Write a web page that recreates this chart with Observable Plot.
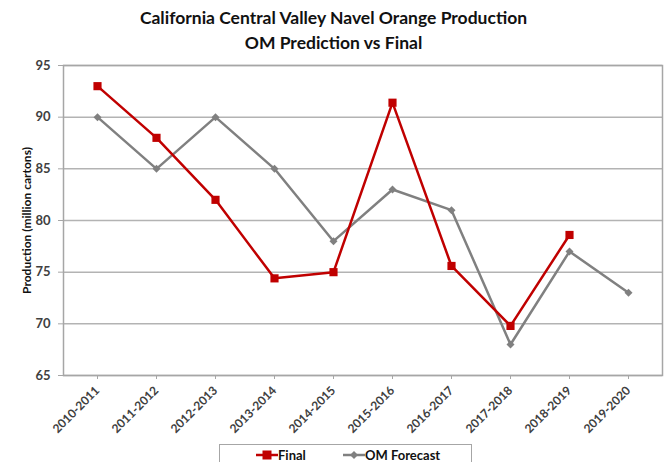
<!DOCTYPE html>
<html>
<head>
<meta charset="utf-8">
<script src="https://cdn.jsdelivr.net/npm/d3@7"></script>
<script src="https://cdn.jsdelivr.net/npm/@observablehq/plot@0.6"></script>
<style>
  body { margin: 0; background: #fff; font-family: Lato, "Open Sans", sans-serif; }
  #wrap { position: relative; width: 667px; height: 462px; overflow: hidden; }
  #title { position: absolute; left: 0; top: 5px; width: 667px; text-align: center; font-weight: bold; font-size: 17.5px; line-height: 25px; color: #111; }
  #chart { position: absolute; left: 0; top: 58px; }
  #legend { position: absolute; left: 219px; top: 444px; width: 253px; height: 24px; border: 1px solid #a6a6a6; box-sizing: border-box; font-weight: bold; font-size: 13px; color: #111; }
  .li { position: absolute; top: 2px; display: flex; align-items: center; height: 16px; }
</style>
</head>
<body>
<div id="wrap">
  <div id="title">California Central Valley Navel Orange Production<br>OM Prediction vs Final</div>
  <div id="chart"></div>
  <div id="legend">
    <div class="li" style="left:36px"><svg width="22" height="12"><line x1="0" y1="6" x2="22" y2="6" stroke="#c00000" stroke-width="2.5"/><rect x="6.5" y="1.5" width="9" height="9" fill="#c00000"/></svg><span>Final</span></div>
    <div class="li" style="left:123px"><svg width="22" height="12"><line x1="0" y1="6" x2="22" y2="6" stroke="#808080" stroke-width="2.5"/><path d="M11 2 L15 6 L11 10 L7 6 Z" fill="#808080"/></svg><span>OM Forecast</span></div>
  </div>
</div>
<script>
const seasons = ["2010-2011","2011-2012","2012-2013","2013-2014","2014-2015","2015-2016","2016-2017","2017-2018","2018-2019","2019-2020"];
const finalValues = [93, 88, 82, 74.4, 75, 91.4, 75.6, 69.8, 78.6, null];
const forecastValues = [90, 85, 90, 85, 78, 83, 81, 68, 77, 73];
const yTicks = [65, 70, 75, 80, 85, 90, 95];

const finalData = seasons.map((s, i) => ({season: s, value: finalValues[i]})).filter(d => d.value != null);
const forecastData = seasons.map((s, i) => ({season: s, value: forecastValues[i]}));

const chart = Plot.plot({
  width: 667,
  height: 385,
  marginTop: 7,
  marginBottom: 68,
  marginLeft: 63,
  marginRight: 5,
  style: {fontFamily: "Lato, 'Open Sans', sans-serif", fontSize: "11px", background: "#fff"},
  x: {type: "point", domain: seasons, padding: 0.5},
  y: {domain: [65, 95]},
  marks: [
    Plot.gridY(yTicks, {stroke: "#b3b3b3", strokeOpacity: 1, strokeWidth: 1.5}),
    Plot.frame({stroke: "#a6a6a6", strokeWidth: 1.5}),
    Plot.axisY(yTicks, {tickSize: 5, tickPadding: 8, stroke: "#a6a6a6", fontWeight: "bold", fill: "#404040", fontSize: 13,
      label: "Production (million cartons)", labelAnchor: "center", labelArrow: "none", labelOffset: 41}),
    Plot.axisX({tickSize: 4, tickPadding: 9, tickRotate: -45, stroke: "#a6a6a6", fontWeight: "bold", fill: "#404040", fontSize: 12, label: null}),
    Plot.line(forecastData, {x: "season", y: "value", stroke: "#808080", strokeWidth: 2.5}),
    Plot.dot(forecastData, {x: "season", y: "value", symbol: "diamond2", r: 3.6, fill: "#808080", stroke: "none"}),
    Plot.line(finalData, {x: "season", y: "value", stroke: "#c00000", strokeWidth: 2.5}),
    Plot.dot(finalData, {x: "season", y: "value", symbol: "square", r: 4.6, fill: "#c00000", stroke: "none"})
  ]
});
document.getElementById("chart").appendChild(chart);
chart.querySelectorAll("[aria-label='y-axis label'] text, [aria-label='y-axis label']").forEach(t => { t.setAttribute("font-weight", "bold"); t.setAttribute("fill", "#111"); t.setAttribute("font-size", "12"); });
</script>
</body>
</html>
